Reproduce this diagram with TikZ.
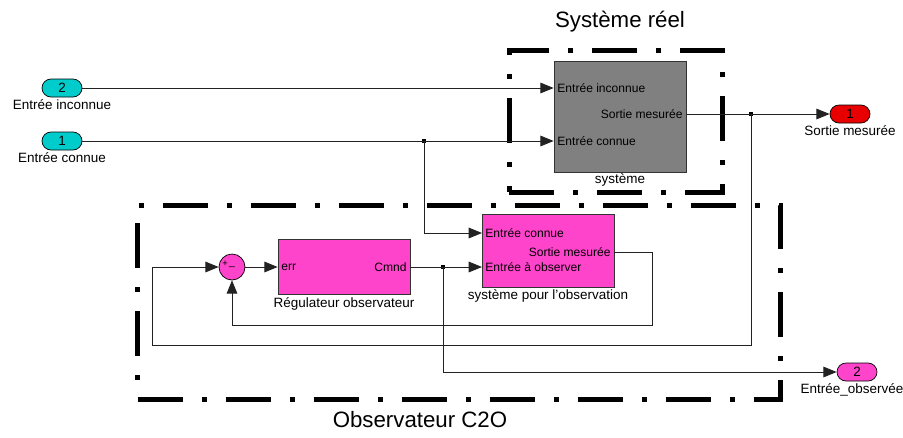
\documentclass[tikz,border=0pt]{standalone}
\usepackage{fontspec}
\setmainfont{Liberation Sans}
\usetikzlibrary{arrows.meta, positioning}
\definecolor{sysgray}{HTML}{808080}
\definecolor{obscol}{HTML}{FF44CC}
\definecolor{incol}{HTML}{00CCCC}
\definecolor{outcol}{HTML}{E80000}
\definecolor{wirecol}{HTML}{222222}

\begin{document}
\begin{tikzpicture}[
    x=0.03cm, y=-0.03cm,
    >={Triangle[length=0.4cm, width=0.32cm]},
    every node/.style={font=\fontsize{11.5}{13}\selectfont},
    block/.style={
        draw=black!80, line width=0.6pt, minimum width=3.96cm, inner sep=0pt,
    },
    port/.style={
        draw=black, line width=0.6pt, rounded corners=0.27cm,
        minimum width=1.2cm, minimum height=0.54cm, inner sep=0pt,
    },
    plbl/.style={font=\fontsize{10.3}{12}\selectfont, inner sep=1pt},
    lbl/.style={inner sep=1pt},
    arr/.style={->, line width=0.8pt, draw=wirecol},
    junc/.style={fill=black, minimum size=0.12cm, inner sep=0pt},
    dashbox/.style={
        draw=black, line width=0.15cm, inner sep=0pt,
        dash pattern=on 1.35cm off 0.57cm on 0.15cm off 0.57cm,
    },
    title/.style={font=\fontsize{19}{22}\selectfont},
]
\useasboundingbox (0,0) rectangle (903,437);

% === Dash-dot frames ===
\node[dashbox, minimum width=6.39cm, minimum height=4.26cm] (realbox) at (615.5,121) {};
\node[dashbox, minimum width=19.26cm, minimum height=5.82cm] (obsbox) at (459,302) {};
\node[title] (realtitle) at (620,22) {Système réel};
\node[title] (obstitle) at (420,420) {Observateur C2O};

% === Inports / outports ===
\node[port, fill=incol] (inInc) at (62,88) {2};
\node[lbl, below=1pt of inInc] {Entrée inconnue};
\node[port, fill=incol] (inKnown) at (62,141) {1};
\node[lbl, below=1pt of inKnown] {Entrée connue};
\node[port, fill=outcol] (outMes) at (850,114) {1};
\node[lbl, below=1pt of outMes] {Sortie mesurée};
\node[port, fill=obscol] (outObs) at (857,372) {2};
\node[lbl, below=1pt of outObs, xshift=-0.15cm] {Entrée\_observée};

% === Real system ===
\node[block, fill=sysgray, minimum height=3.33cm] (sysreel) at (620,116.5) {};
\node[lbl, below=0pt of sysreel] {système};
\node[plbl, anchor=west] at (556,88) {Entrée inconnue};
\node[plbl, anchor=west] at (556,141) {Entrée connue};
\node[plbl, anchor=east] at (684,114) {Sortie mesurée};

% === Observer ===
\node[circle, draw=black, fill=obscol, line width=0.6pt, minimum size=0.78cm, inner sep=0pt] (sum) at (232,267) {};
\node[font=\fontsize{8}{9}\selectfont, inner sep=0pt] at (225,264) {+};
\node[font=\fontsize{9}{10}\selectfont, inner sep=0pt] at (232,267) {\_};

\node[block, fill=obscol, minimum height=1.65cm] (reg) at (344,267) {};
\node[lbl, below=1pt of reg] {Régulateur observateur};
\node[plbl, anchor=west] at (280,267) {err};
\node[plbl, anchor=east] at (408,267) {Cmnd};

\node[block, fill=obscol, minimum height=2.19cm] (sysobs) at (548,250.5) {};
\node[lbl, below=1pt of sysobs] {système pour l'observation};
\node[plbl, anchor=west] at (484,233) {Entrée connue};
\node[plbl, anchor=west] at (484,267) {Entrée à observer};
\node[plbl, anchor=east] at (612,252) {Sortie mesurée};

% port points and bends
\coordinate (srOut) at (686,114);
\coordinate (obsInA) at (482,233);
\coordinate (obsInB) at (482,267);
\coordinate (obsOut) at (614,252);
\coordinate (fbReal) at (152,345);
\coordinate (fbObs) at (652,325);

% === Junctions ===
\node[junc] (jKnown) at (424,141) {};
\node[junc] (jMes) at (751,114) {};
\node[junc] (jCmd) at (443,267) {};

% === Wires ===
\draw[arr] (inInc.east) -- (inInc -| sysreel.west);
\draw[arr] (inKnown.east) -- (inKnown -| sysreel.west);
\draw[arr] (jKnown.center) |- (obsInA);
\draw[arr] (srOut) -- (outMes.west);

% measured output back to the sum
\draw[arr] (jMes.center) |- (fbReal) |- (sum.west);
\draw[arr] (sum.east) -- (reg.west);
\draw[arr] (reg.east) -- (obsInB);
\draw[arr] (jCmd.center) |- (outObs.west);

% observer output back to the sum
\draw[arr] (obsOut) -| (fbObs) -| (sum.south);

\end{tikzpicture}
\end{document}
